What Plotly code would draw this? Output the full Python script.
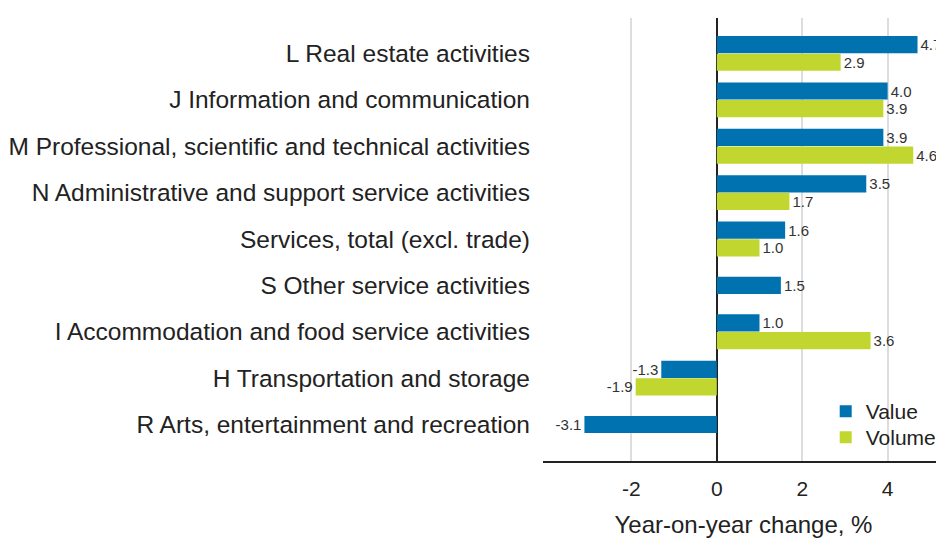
import plotly.graph_objects as go

categories = [
    "L Real estate activities",
    "J Information and communication",
    "M Professional, scientific and technical activities",
    "N Administrative and support service activities",
    "Services, total (excl. trade)",
    "S Other service activities",
    "I Accommodation and food service activities",
    "H Transportation and storage",
    "R Arts, entertainment and recreation",
]
value = [4.7, 4.0, 3.9, 3.5, 1.6, 1.5, 1.0, -1.3, -3.1]
volume = [2.9, 3.9, 4.6, 1.7, 1.0, None, 3.6, -1.9, None]

BLUE = "#0072b0"
GREEN = "#c1d72f"
FONT = "Liberation Sans, Arial, sans-serif"
TXT = "#222222"
OFF = 0.19
W = 0.37

vy, vx, wy, wx = [], [], [], []
for i, (a, b) in enumerate(zip(value, volume)):
    both = a is not None and b is not None
    if a is not None:
        vy.append(i - OFF if both else i)
        vx.append(a)
    if b is not None:
        wy.append(i + OFF if both else i)
        wx.append(b)

fig = go.Figure()
fig.add_trace(go.Bar(
    name="Value", x=vx, y=vy, orientation="h", width=W,
    marker=dict(color=BLUE, line=dict(width=0)),
    text=[f"{v:.1f}" for v in vx], textposition="outside",
    textfont=dict(size=15, color="#333333", family=FONT), cliponaxis=False,
    legend="legend", showlegend=True,
))
fig.add_trace(go.Bar(
    name="Volume", x=wx, y=wy, orientation="h", width=W,
    marker=dict(color=GREEN, line=dict(width=0)),
    text=[f"{v:.1f}" for v in wx], textposition="outside",
    textfont=dict(size=15, color="#333333", family=FONT), cliponaxis=False,
    legend="legend2", showlegend=True,
))

leg = dict(xanchor="left", yanchor="top", font=dict(size=21, color=TXT),
           bgcolor="rgba(0,0,0,0)")
fig.update_layout(
    width=936, height=530,
    margin=dict(l=535, r=0, t=10, b=77),
    barmode="overlay", showlegend=True,
    plot_bgcolor="white", paper_bgcolor="white",
    font=dict(family=FONT, color=TXT, size=21),
    legend=dict(x=0.705, y=0.158, visible=True, **leg),
    legend2=dict(x=0.705, y=0.158 - 26 / 443, visible=True, **leg),
)
fig.update_xaxes(
    range=[-4.07, 5.32], tickvals=[-2, 0, 2, 4], ticktext=["-2", "0", "2", "4"],
    showgrid=True, gridcolor="#dddddd", gridwidth=1.5,
    zeroline=True, zerolinecolor=TXT, zerolinewidth=2,
    showline=True, linecolor=TXT, linewidth=2,
    ticks="", ticklabelstandoff=8,
    tickfont=dict(size=21, color=TXT),
    title=dict(text="Year-on-year change, %", font=dict(size=24, color=TXT), standoff=20),
)
fig.update_yaxes(
    range=[8.787, -0.765], tickvals=list(range(len(categories))), ticktext=categories,
    showgrid=False, zeroline=False, showline=False, ticks="",
    ticklabelstandoff=12, tickfont=dict(size=24.5, color=TXT),
)

fig.write_html("out.html")
